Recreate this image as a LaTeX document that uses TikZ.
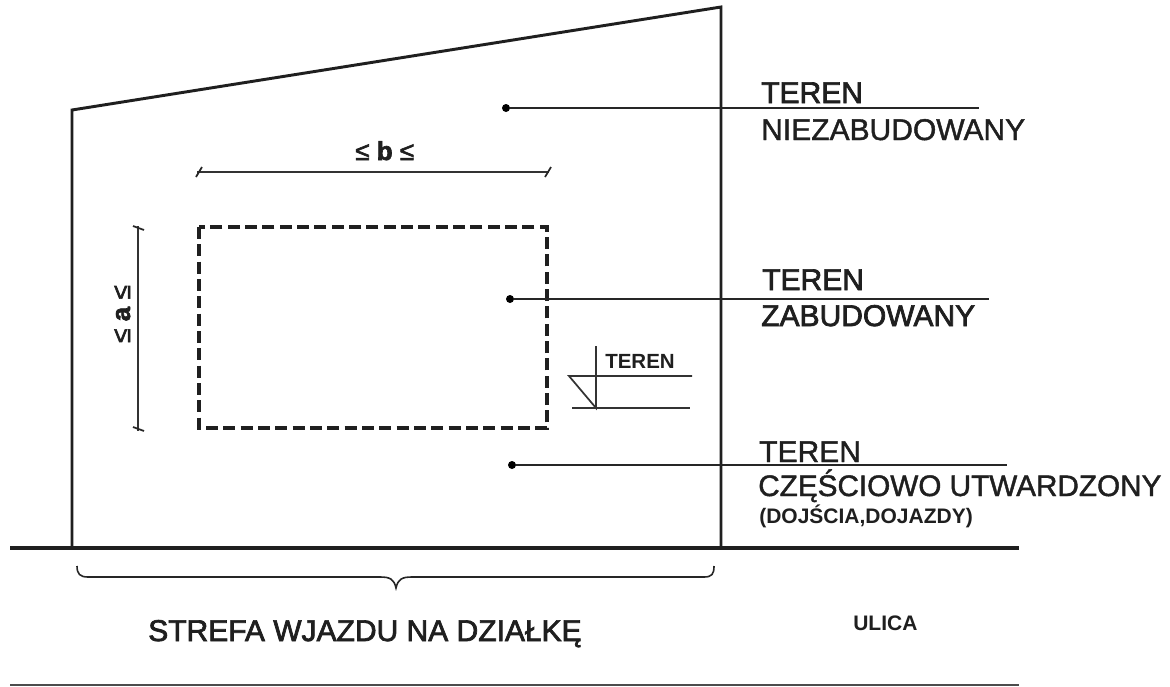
\documentclass[tikz,border=0pt]{standalone}
\usepackage{fontspec}
\setmainfont{Liberation Sans}
\newcommand{\px}[1]{\fontsize{\the\dimexpr #1pt*3/4\relax}{\the\dimexpr #1pt\relax}\selectfont}
\newfontfamily\heavier[FakeBold=1.4]{Liberation Sans}
\newfontfamily\heaviest[FakeBold=2.4]{Liberation Sans}
\tikzset{
 x=0.75pt,y=-0.75pt,
 heavy/.style={line width=2.2pt,color=black!88},
 boldline/.style={line width=2.3pt,color=black!88},
 thin line/.style={line width=1.3pt,color=black!80},
 leader/.style={line width=1.3pt,color=black!85},
 dot/.style={circle,fill=black,inner sep=0pt,minimum size=6pt},
 lab/.style={anchor=base west,inner sep=0pt,text=black!88},
 tick/.style={line width=1.3pt,color=black!85},
}
\begin{document}
\begin{tikzpicture}
\useasboundingbox (0,0) rectangle (1170,686);
\fill[white] (0,0) rectangle (1170,686);
% plot
\coordinate (p1) at (72,548); \coordinate (p2) at (72,110); \coordinate (p3) at (721,7); \coordinate (p4) at (721,548);
\draw[heavy,line join=miter] (p1) -- (p2) -- (p3) -- (p4);
\coordinate (g1) at (10,548); \coordinate (g2) at (1019,548);
\draw[boldline] (g1) -- (g2);
\coordinate (s1) at (10,685); \coordinate (s2) at (1019,685);
\draw[line width=1.1pt,color=black!70] (s1) -- (s2);
% dashed
\draw[boldline,dash pattern=on 9pt off 4pt] (199,227) rectangle (547,428);
% dim b
\coordinate (b1) at (197,172); \coordinate (b2) at (549,172);
\draw[thin line] (b1) -- (b2);
\draw[tick] (196,177) -- (202,167); \draw[tick] (545,177) -- (551,167);
\node[lab,font=\px{26}\heaviest] (lb) at (355,160) {≤ \textbf{b} ≤};
% dim a
\coordinate (a1) at (138,226); \coordinate (a2) at (138,431);
\draw[thin line] (a1) -- (a2);
\draw[tick] (133,226) -- (144,230); \draw[tick] (133,427) -- (144,431);
\node[lab,font=\px{26}\heaviest,rotate=90,anchor=base] (la) at (130,314) {≤ \textbf{a} ≤};
% leaders
\node[dot] (d1) at (506,108) {}; \coordinate (e1) at (979,108);
\draw[leader] (d1) -- (e1);
\node[dot] (d2) at (510,299) {}; \coordinate (e2) at (989,299);
\draw[leader] (d2) -- (e2);
\node[dot] (d3) at (512,465) {}; \coordinate (e3) at (1007,465);
\draw[leader] (d3) -- (e3);
\node[lab,font=\px{30}\heaviest] (t1) at (761,103) {TEREN};
\node[lab,font=\px{30}\heavier] (t2) at (761,140) {NIEZABUDOWANY};
\node[lab,font=\px{30}\heaviest] (t3) at (762,290) {TEREN};
\node[lab,font=\px{30}\heaviest] (t4) at (761,326) {ZABUDOWANY};
\node[lab,font=\px{30}\heavier] (t5) at (759,462) {TEREN};
\node[lab,font=\px{29.7}\heavier] (t6) at (758,496) {CZĘŚCIOWO UTWARDZONY};
\node[lab,font=\px{21}\bfseries] (t7) at (759,523) {(DOJŚCIA,DOJAZDY)};
% level mark
\coordinate (m1) at (596,346); \coordinate (m2) at (596,408);
\coordinate (m3) at (569,376); \coordinate (m4) at (692,376);
\coordinate (m5) at (572,408); \coordinate (m6) at (690,408);
\draw[thin line] (m1) -- (m2) -- (m3) -- (m4);
\draw[thin line] (m5) -- (m6);
\node[lab,font=\px{20.5}\bfseries] (t8) at (605,368) {TEREN};
% brace
\draw[line width=1.2pt,color=black!85] (77,566) .. controls (77,574) and (80,577) .. (88,577) -- (380,577) .. controls (390,577) and (394,579) .. (396,588) .. controls (398,579) and (402,577) .. (412,577) -- (704,577) .. controls (712,577) and (714,574) .. (714,566);
\node[lab,font=\px{30}\heaviest] (t9) at (148,641) {STREFA WJAZDU NA DZIAŁKĘ};
\node[lab,font=\px{21}\bfseries] (t10) at (853,630) {ULICA};
\end{tikzpicture}
\end{document}
